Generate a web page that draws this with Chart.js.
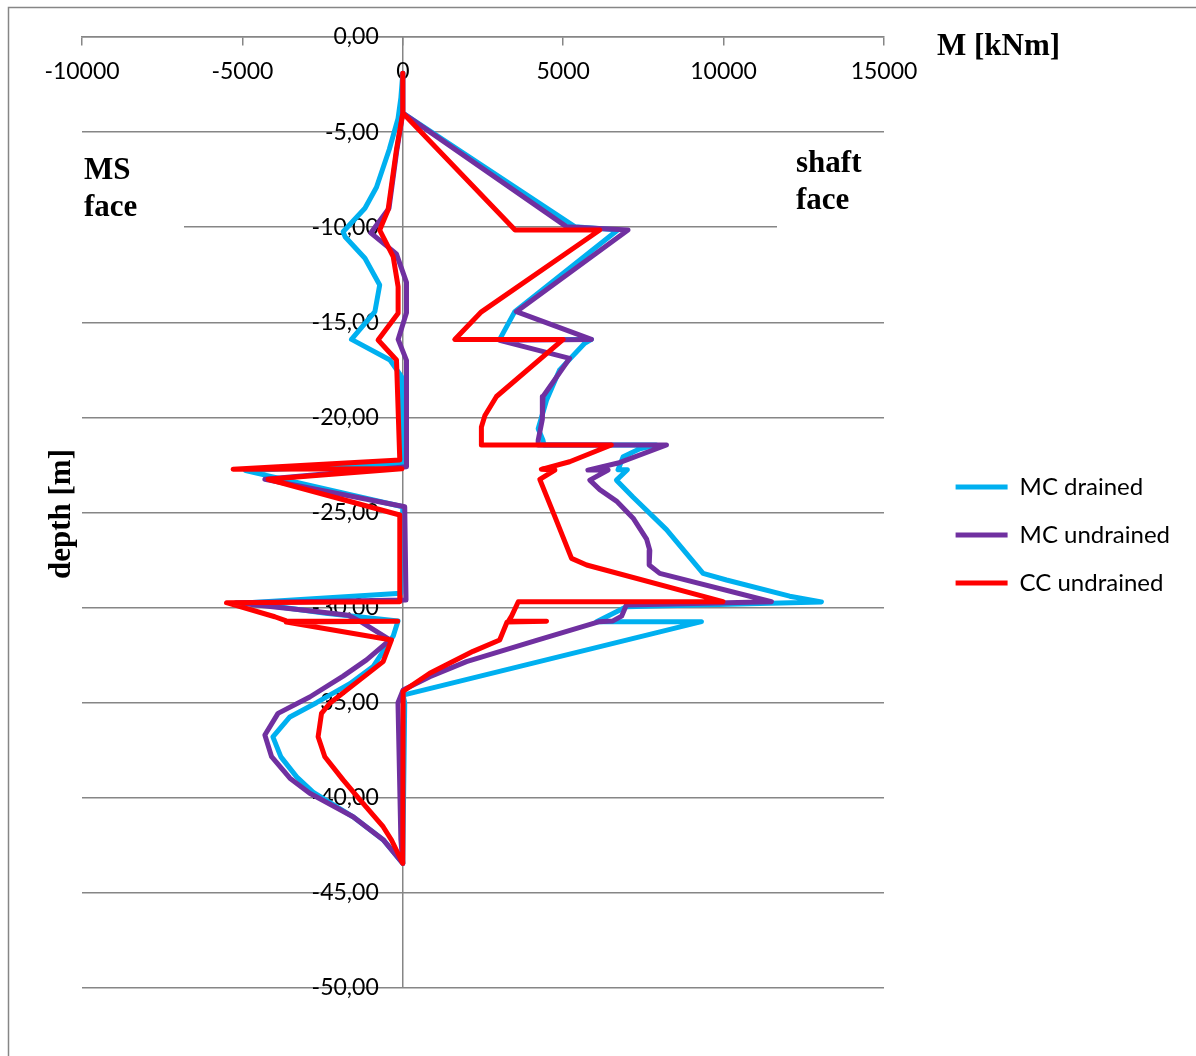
<!DOCTYPE html>
<html>
<head>
<meta charset="utf-8">
<script src="https://cdn.jsdelivr.net/npm/chart.js@4.4.1/dist/chart.umd.min.js"></script>
<style>
  html, body { margin: 0; padding: 0; background: #ffffff; }
  #wrap { position: relative; width: 1196px; height: 1056px; }
  canvas { display: block; }
</style>
</head>
<body>
<div id="wrap"><canvas id="chart" width="1196" height="1056"></canvas></div>
<script>
// Bending moment M [kNm] against depth [m], three constitutive models.
// Each model has a shaft-side envelope and an MS-side envelope, both listed top to bottom.
const seriesNames = ['MC drained', 'MC undrained', 'CC undrained'];
const seriesColors = ['#00B0F0', '#7030A0', '#FF0000'];

const xTicks = [-10000, -5000, 0, 5000, 10000, 15000];
const yTicks = [0, -5, -10, -15, -20, -25, -30, -35, -40, -45, -50];

const mcDrainedShaft = [
  [0, -1.9], [0, -4.0], [5360, -9.97], [6700, -10.15], [3490, -14.44], [3020, -15.9],
  [5880, -15.9], [5670, -16.1], [4890, -17.5], [4480, -19.1], [4220, -20.6], [4370, -21.2],
  [4400, -21.45], [7900, -21.45], [7390, -21.65], [6870, -22.07], [6710, -22.75], [7000, -22.75],
  [6660, -23.3], [7180, -24.2], [8220, -25.9], [9360, -28.2], [10090, -28.55], [12060, -29.4],
  [13050, -29.7], [6970, -29.95], [6040, -30.74], [9310, -30.74], [10, -34.6], [60, -35.0],
  [0, -43.45]
];
const mcDrainedMs = [
  [0, -1.9], [-60, -3.2], [-150, -4.3], [-420, -5.9], [-820, -7.9], [-1180, -9.0],
  [-1860, -10.24], [-1800, -10.5], [-1180, -11.63], [-720, -13.04], [-870, -14.44], [-1600, -15.9],
  [-400, -16.98], [-40, -17.86], [20, -22.4], [-4900, -22.8], [0, -24.7], [-60, -29.25],
  [-4800, -29.75], [-2400, -30.3], [-150, -30.7], [-300, -31.5], [-925, -33.1], [-1650, -34.0],
  [-2690, -35.0], [-3520, -35.75], [-4050, -36.8], [-3800, -37.85], [-3310, -38.9], [-2800, -39.7],
  [-1550, -41.0], [-613, -42.2], [0, -43.45]
];

const mcUndrainedShaft = [
  [0, -1.9], [0, -4.0], [5100, -9.97], [7020, -10.15], [3540, -14.44], [5880, -15.9],
  [3020, -15.95], [5200, -16.9], [4370, -18.9], [4350, -20.1], [4220, -21.2], [4220, -21.45],
  [8220, -21.45], [6710, -22.4], [5770, -22.77], [6400, -22.77], [5830, -23.3], [6140, -23.8],
  [6660, -24.4], [7180, -25.3], [7600, -26.4], [7700, -27.0], [7680, -27.76], [8010, -28.2],
  [11490, -29.69], [6970, -29.86], [6820, -30.45], [6550, -30.7], [6100, -30.75], [4220, -31.7],
  [1985, -32.84], [842, -33.63], [10, -34.33], [-150, -35.0], [-60, -42.2], [0, -43.45]
];
const mcUndrainedMs = [
  [0, -1.9], [0, -4.0], [-190, -6.0], [-430, -9.0], [-1000, -10.3], [-200, -11.4],
  [115, -12.9], [115, -14.5], [-146, -15.9], [115, -17.0], [115, -22.6], [-4300, -23.25],
  [60, -24.7], [100, -29.6], [-5200, -29.75], [-2700, -30.2], [-1700, -30.4], [-1250, -30.8],
  [-400, -31.7], [-1130, -32.75], [-1860, -33.6], [-2900, -34.7], [-3890, -35.56], [-4300, -36.7],
  [-4090, -37.84], [-3520, -38.97], [-2900, -39.76], [-1550, -41.0], [-613, -42.2], [0, -43.45]
];

const ccUndrainedShaft = [
  [0, -1.9], [0, -4.0], [3500, -10.15], [6140, -10.15], [2450, -14.45], [1620, -15.9],
  [5000, -15.9], [2920, -18.9], [2560, -19.9], [2450, -20.5], [2450, -21.45], [6500, -21.45],
  [5200, -22.33], [4320, -22.73], [4740, -22.77], [4270, -23.26], [4740, -25.22], [5260, -27.41],
  [5730, -27.76], [9980, -29.69], [3600, -29.69], [3390, -30.45], [3300, -30.7], [4480, -30.72],
  [3250, -30.76], [3020, -31.7], [2190, -32.3], [840, -33.45], [10, -34.4], [0, -43.45]
];
const ccUndrainedMs = [
  [0, -1.9], [0, -4.0], [-200, -5.94], [-460, -9.1], [-720, -10.15], [-300, -11.55],
  [-146, -13.13], [-146, -14.53], [-770, -15.93], [-197, -16.98], [-94, -22.24], [-5290, -22.73],
  [-30, -22.7], [-4200, -23.25], [-94, -25.13], [-94, -29.69], [-5495, -29.74], [-3990, -30.48],
  [-3630, -30.7], [-160, -30.72], [-3630, -30.76], [-353, -31.7], [-613, -32.84], [-1340, -33.8],
  [-2275, -35.03], [-2534, -35.56], [-2640, -36.79], [-2431, -37.84], [-1861, -39.06], [-1340, -40.1],
  [-613, -41.52], [-353, -42.22], [0, -43.45]
];

const envelopes = [
  [mcDrainedShaft, mcDrainedMs],
  [mcUndrainedShaft, mcUndrainedMs],
  [ccUndrainedShaft, ccUndrainedMs]
];

// One closed outline per model: down the shaft side, back up the MS side.
function outline(shaft, ms) {
  return shaft.concat(ms.slice().reverse()).map(([m, d]) => ({ x: m, y: d }));
}

const GRID = '#868686';
const PLOT_RIGHT = 884;
const RIGHT_PAD = 16;

const datasets = envelopes.map(([shaft, ms], i) => ({
  label: seriesNames[i],
  data: outline(shaft, ms),
  borderColor: seriesColors[i],
  backgroundColor: seriesColors[i],
  borderWidth: 5,
  borderJoinStyle: 'round',
  borderCapStyle: 'round',
  pointRadius: 0,
  pointHoverRadius: 0,
  showLine: true,
  fill: false,
  tension: 0,
  order: 3 - i
}));

const annotations = {
  id: 'annotations',
  beforeDraw(chart) {
    const ctx = chart.ctx;
    ctx.save();
    ctx.fillStyle = '#ffffff';
    ctx.fillRect(0, 0, chart.width, chart.height);
    ctx.strokeStyle = GRID;
    ctx.lineWidth = 1.5;
    ctx.strokeRect(8.5, 7.5, chart.width + 20, chart.height + 20);
    ctx.restore();
  },
  beforeDatasetsDraw(chart) {
    // text boxes with a white fill sit over the -10 gridline
    const ctx = chart.ctx;
    const y10 = chart.scales.y.getPixelForValue(-10);
    ctx.save();
    ctx.fillStyle = '#ffffff';
    ctx.fillRect(chart.chartArea.left - 1, y10 - 80, 103, 84);
    ctx.fillRect(777, y10 - 80, chart.chartArea.right - 777 + 2, 84);
    ctx.restore();
  },
  afterDraw(chart) {
    const ctx = chart.ctx;
    ctx.save();
    ctx.fillStyle = '#000000';
    ctx.font = 'bold 31px "Liberation Serif", "Times New Roman", serif';
    ctx.textBaseline = 'middle';
    ctx.textAlign = 'left';
    ctx.fillText('M [kNm]', 937, 47);
    ctx.fillText('MS', 84, 171);
    ctx.fillText('face', 84, 208);
    ctx.fillText('shaft', 796, 164);
    ctx.fillText('face', 796, 201);
    ctx.translate(62, 514);
    ctx.rotate(-Math.PI / 2);
    ctx.textAlign = 'center';
    ctx.fillText('depth [m]', 0, 0);
    ctx.restore();
  }
};

new Chart(document.getElementById('chart'), {
  type: 'scatter',
  data: { datasets },
  plugins: [annotations],
  options: {
    responsive: false,
    animation: false,
    devicePixelRatio: 1,
    layout: { padding: { left: 82, top: 37, bottom: 68, right: RIGHT_PAD } },
    scales: {
      x: {
        type: 'linear',
        min: -10000,
        max: 15000,
        position: { y: 0 },
        afterBuildTicks: s => { s.ticks = xTicks.map(v => ({ value: v })); },
        ticks: {
          color: '#000000',
          font: { family: 'Lato', size: 23 },
          padding: 13,
          maxRotation: 0,
          autoSkip: false,
          callback: v => String(v)
        },
        grid: {
          color: c => (c.tick && c.tick.value === 0 ? GRID : 'rgba(0,0,0,0)'),
          tickColor: GRID,
          lineWidth: 1.5,
          tickLength: 8
        },
        border: { display: true, color: GRID, width: 1.5 }
      },
      y: {
        type: 'linear',
        min: -50,
        max: 0,
        position: { x: -750 },
        afterBuildTicks: s => { s.ticks = yTicks.map(v => ({ value: v })); },
        ticks: {
          color: '#000000',
          font: { family: 'Lato', size: 23 },
          padding: 0,
          autoSkip: false,
          callback: v => v.toFixed(2).replace('.', ',')
        },
        grid: { color: GRID, lineWidth: 1.5, drawTicks: false },
        border: { display: false }
      },
      gap: {
        // spacer between the plot and the legend
        type: 'linear',
        position: 'right',
        display: false,
        afterFit: s => {
          const lg = s.chart.legend;
          s.width = Math.max(0, s.chart.width - RIGHT_PAD - (lg ? lg.width : 0) - PLOT_RIGHT);
        }
      }
    },
    plugins: {
      legend: {
        position: 'right',
        align: 'center',
        title: { display: true, text: '', font: { size: 20 }, padding: { top: 21, bottom: 0 } },
        labels: {
          usePointStyle: true,
          pointStyle: 'line',
          pointStyleWidth: 52,
          padding: 24,
          color: '#000000',
          font: { family: 'Lato', size: 24 },
          sort: (a, b) => a.datasetIndex - b.datasetIndex
        }
      },
      tooltip: { enabled: false }
    }
  }
});
</script>
</body>
</html>
